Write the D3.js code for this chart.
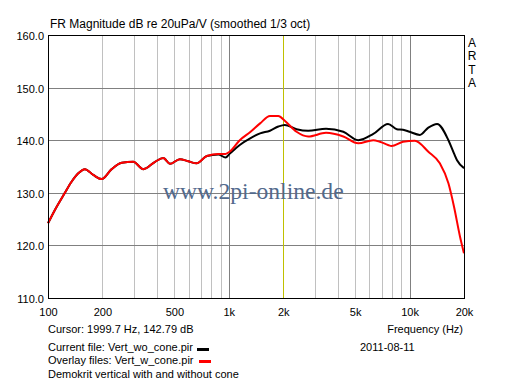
<!DOCTYPE html>
<html>
<head>
<meta charset="utf-8">
<script src="https://cdn.jsdelivr.net/npm/d3@7"></script>
<style>
  body { margin: 0; background: #fff; }
  svg { display: block; }
  text { font-family: "Liberation Sans", Arial, sans-serif; font-size: 11px; fill: #000; }
</style>
</head>
<body>
<div id="chart"></div>
<script>
// measured curves (dB re 20uPa/V, 1/3 oct smoothed)
const woConeFreq = [100, 109, 124, 135, 147, 160, 178, 198, 225, 256, 296, 337, 391, 434, 473, 536, 596, 664, 756, 875, 960, 1010, 1150, 1320, 1490, 1690, 1880, 2040, 2370, 2750, 3450, 4300, 5200, 6300, 7600, 8500, 9200, 10000, 11400, 12700, 14200, 16400, 17600, 18300, 20000];
const woConeDb   = [124.2, 126.7, 130.0, 132.1, 133.7, 134.5, 133.4, 132.6, 134.5, 135.7, 135.9, 134.5, 135.9, 136.6, 135.5, 136.4, 136.0, 135.6, 137.0, 137.3, 136.7, 137.4, 139.1, 140.4, 141.3, 141.8, 142.6, 142.9, 142.1, 141.8, 142.2, 141.6, 140.0, 141.2, 143.1, 142.1, 142.0, 141.6, 141.0, 142.4, 143.1, 140.0, 137.5, 136.2, 134.7];

const wConeFreq = [100, 109, 124, 135, 147, 160, 178, 198, 225, 256, 296, 337, 391, 434, 473, 536, 596, 664, 756, 875, 960, 1010, 1150, 1320, 1490, 1690, 1880, 2040, 2370, 2750, 3450, 4300, 5200, 6300, 6850, 7600, 7940, 9200, 10700, 12700, 14700, 16400, 17600, 19000, 20000];
const wConeDb   = [124.2, 126.7, 130.0, 132.1, 133.7, 134.5, 133.4, 132.6, 134.5, 135.7, 135.9, 134.5, 135.9, 136.6, 135.5, 136.4, 136.0, 135.6, 137.0, 137.4, 137.4, 137.8, 140.0, 141.6, 143.2, 144.6, 144.6, 143.7, 141.6, 140.7, 141.4, 140.7, 139.4, 140.0, 139.7, 139.1, 138.9, 139.7, 139.9, 137.8, 135.6, 131.8, 127.4, 121.7, 118.5];

const xTicks = [100, 200, 500, 1000, 2000, 5000, 10000, 20000];
const xTickLabels = ["100", "200", "500", "1k", "2k", "5k", "10k", "20k"];
const xMinor = [200, 300, 400, 500, 600, 700, 800, 900, 3000, 4000, 5000, 6000, 7000, 8000, 9000];
const yTicks = [110, 120, 130, 140, 150, 160];
const cursorFreq = 2000;

const width = 512, height = 386;
const plotLeft = 48, plotRight = 464, plotTop = 35, plotBottom = 298;

const svg = d3.select("#chart").append("svg")
    .attr("width", width)
    .attr("height", height);

svg.append("rect").attr("width", width).attr("height", height).attr("fill", "#fff");

const x = d3.scaleLog().domain([100, 20000]).range([plotLeft, plotRight]);
const y = d3.scaleLinear().domain([110, 160]).range([plotBottom, plotTop]);

// grid
const grid = svg.append("g");
grid.selectAll(".minor")
    .data(xMinor)
    .join("line")
    .attr("x1", d => Math.round(x(d)) + 0.5)
    .attr("x2", d => Math.round(x(d)) + 0.5)
    .attr("y1", plotTop).attr("y2", plotBottom)
    .attr("stroke", "#c0c0c0");

grid.selectAll(".decade")
    .data([1000, 10000])
    .join("line")
    .attr("x1", d => Math.round(x(d)) + 0.5)
    .attr("x2", d => Math.round(x(d)) + 0.5)
    .attr("y1", plotTop).attr("y2", plotBottom)
    .attr("stroke", "#808080");

grid.selectAll(".hgrid")
    .data(yTicks.slice(1, -1))
    .join("line")
    .attr("x1", plotLeft).attr("x2", plotRight)
    .attr("y1", d => Math.round(y(d)) + 0.5)
    .attr("y2", d => Math.round(y(d)) + 0.5)
    .attr("stroke", "#808080");

// cursor line
grid.append("line")
    .attr("x1", Math.round(x(cursorFreq)) + 0.5)
    .attr("x2", Math.round(x(cursorFreq)) + 0.5)
    .attr("y1", plotTop).attr("y2", plotBottom)
    .attr("stroke", "#c0c000");

// watermark
svg.append("text")
    .attr("x", 163).attr("y", 199)
    .style("font-family", "'Liberation Serif', 'Times New Roman', serif")
    .style("font-size", "23.6px")
    .style("fill", "#52698c")
    .text("www.2pi-online.de");

// curves
const line = d3.line()
    .x(d => x(d[0]))
    .y(d => y(d[1]))
    .curve(d3.curveMonotoneX);

svg.append("path")
    .datum(d3.zip(woConeFreq, woConeDb))
    .attr("d", line)
    .attr("fill", "none")
    .attr("stroke", "#000")
    .attr("stroke-width", 2);

svg.append("path")
    .datum(d3.zip(wConeFreq, wConeDb))
    .attr("d", line)
    .attr("fill", "none")
    .attr("stroke", "#ff0000")
    .attr("stroke-width", 2);

// frame
svg.append("rect")
    .attr("x", plotLeft + 0.5).attr("y", plotTop + 0.5)
    .attr("width", plotRight - plotLeft).attr("height", plotBottom - plotTop)
    .attr("fill", "none")
    .attr("stroke", "#000");

// axes (labels only)
const xAxis = d3.axisBottom(x)
    .tickValues(xTicks)
    .tickFormat((d, i) => xTickLabels[i])
    .tickSize(0)
    .tickPadding(0);
svg.append("g")
    .attr("transform", `translate(0,${plotBottom + 10})`)
    .call(xAxis)
    .call(g => g.select(".domain").remove())
    .call(g => g.selectAll("text").attr("dy", "0.71em")
        .style("font-family", "'Liberation Sans', Arial, sans-serif").style("font-size", "11px"));

const yAxis = d3.axisLeft(y)
    .tickValues(yTicks)
    .tickFormat(d3.format(".1f"))
    .tickSize(0)
    .tickPadding(4);
svg.append("g")
    .attr("transform", `translate(${plotLeft},1)`)
    .call(yAxis)
    .call(g => g.select(".domain").remove())
    .call(g => g.selectAll("text")
        .style("font-family", "'Liberation Sans', Arial, sans-serif").style("font-size", "11px"));

// texts
svg.append("text").attr("x", 50).attr("y", 28)
    .style("font-size", "12px")
    .text("FR Magnitude dB re 20uPa/V (smoothed 1/3 oct)");

svg.append("g").selectAll("text")
    .data(["A", "R", "T", "A"])
    .join("text")
    .attr("x", 472).attr("y", (d, i) => 47 + i * 13.3)
    .attr("text-anchor", "middle")
    .style("font-size", "12px")
    .text(d => d);

svg.append("text").attr("x", 48).attr("y", 333).text("Cursor: 1999.7 Hz, 142.79 dB");
svg.append("text").attr("x", 463).attr("y", 333).attr("text-anchor", "end").text("Frequency (Hz)");
svg.append("text").attr("x", 48).attr("y", 351).text("Current file: Vert_wo_cone.pir");
svg.append("text").attr("x", 360).attr("y", 351).text("2011-08-11");
svg.append("text").attr("x", 48).attr("y", 364).text("Overlay files: Vert_w_cone.pir");
svg.append("text").attr("x", 48).attr("y", 378).text("Demokrit vertical with and without cone");

svg.append("rect").attr("x", 197).attr("y", 348).attr("width", 12).attr("height", 3).attr("fill", "#000");
svg.append("rect").attr("x", 199).attr("y", 360).attr("width", 12).attr("height", 3).attr("fill", "#ff0000");
</script>
</body>
</html>
